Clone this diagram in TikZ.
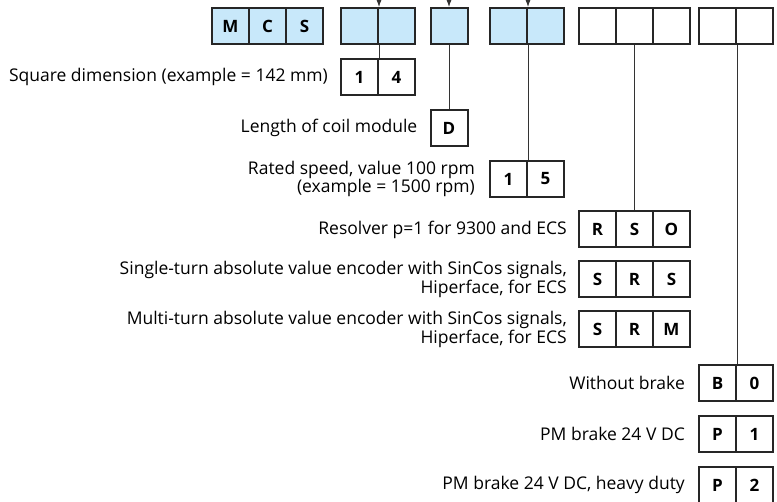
\documentclass[tikz,border=0pt]{standalone}
\usepackage{fontspec}
\setmainfont{Open Sans}
\usetikzlibrary{positioning,arrows.meta}
\definecolor{codeblue}{RGB}{200,232,250}
\tikzset{
  cell/.style={draw=black!85, line width=2pt, minimum width=37pt, minimum height=36pt, inner sep=0pt, font=\fontsize{17}{17}\selectfont\bfseries},
  keycell/.style={cell, fill=codeblue},
  lbl/.style={font=\fontsize{17.5}{17}\selectfont, align=right, inner sep=0pt},
  feed/.style={line width=0.8pt, black!80},
}

\begin{document}
\begin{tikzpicture}[x=1pt,y=-1pt]
\useasboundingbox (0,0) rectangle (777,502);
% type code row
\foreach \t/\x [count=\i] in {M/230.5,C/267.5,S/304.5}
\node[keycell] (mcs\i) at (\x,26) {\t};
\node[keycell] (sq1) at (359.5,26) {}; \node[keycell] (sq2) at (396.5,26) {};
\node[keycell] (len) at (449,26) {};
\node[keycell] (sp1) at (508.5,26) {}; \node[keycell] (sp2) at (545.5,26) {};
\foreach \x [count=\i] in {597.5,634.5,671.5}
\node[cell] (fb\i) at (\x,26) {};
\node[cell] (br1) at (717.5,26) {}; \node[cell] (br2) at (754.5,26) {};

% arrows from above
\path (sq1.north east) ++(0,-20) coordinate (in1);
\path (len.north) ++(0,-20) coordinate (in2);
\path (sp1.north east) ++(0,-20) coordinate (in3);
\draw[feed,-{Latex[length=7pt,width=5pt]}] (in1) -- (sq1.north east);
\draw[feed,-{Latex[length=7pt,width=5pt]}] (in2) -- (len.north);
\draw[feed,-{Latex[length=7pt,width=5pt]}] (in3) -- (sp1.north east);

% square dimension
\node[cell] (d14a) at (359.5,77) {1}; \node[cell] (d14b) at (396.5,77) {4};
\node[lbl,left=12pt of d14a] (lsq) {Square dimension (example = 142 mm)};
% coil length
\node[cell] (dD) at (449,128) {D};
\node[lbl,left=12pt of dD] (llen) {Length of coil module};
% rated speed
\node[cell] (r15a) at (508.5,179) {1}; \node[cell] (r15b) at (545.5,179) {5};
\node[lbl,left=14pt of r15a] (lsp) {Rated speed, value 100 rpm\\(example = 1500 rpm)};

% feedback
\foreach \nm/\a/\b/\c/\y in {rso/R/S/O/229.5,srs/S/R/S/279.5,srm/S/R/M/329.5}{
\node[cell] (\nm1) at (597.5,\y) {\a};
\node[cell] (\nm2) at (634.5,\y) {\b};
\node[cell] (\nm3) at (671.5,\y) {\c};
}
\node[lbl,left=11pt of rso1] (lrso) {Resolver p=1 for 9300 and ECS};
\node[lbl,left=11pt of srs1] (lsrs) {Single-turn absolute value encoder with SinCos signals,\\Hiperface, for ECS};
\node[lbl,left=11pt of srm1] (lsrm) {Multi-turn absolute value encoder with SinCos signals,\\Hiperface, for ECS};

% brake
\foreach \nm/\a/\b/\y in {b0/B/0/383,p1/P/1/434,p2/P/2/485}{
\node[cell] (\nm a) at (717.5,\y) {\a};
\node[cell] (\nm b) at (754.5,\y) {\b};
}
\node[lbl,left=13pt of b0a] (lb0) {Without brake};
\node[lbl,left=13pt of p1a] (lp1) {PM brake 24 V DC};
\node[lbl,left=13pt of p2a] (lp2) {PM brake 24 V DC, heavy duty};

% connectors
\draw[feed] (sq1.south east) -- (d14a.north east);
\draw[feed] (len.south) -- (dD.north);
\draw[feed] (sp1.south east) -- (r15a.north east);
\draw[feed] (fb2.south) -- (rso2.north);
\draw[feed] (br1.south east) -- (b0a.north east);
\end{tikzpicture}
\end{document}
